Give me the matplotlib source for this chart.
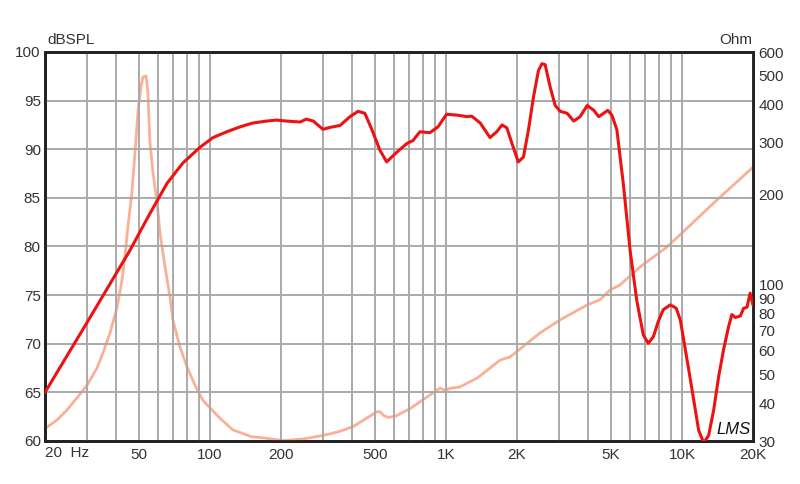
import matplotlib
matplotlib.use("Agg")
import matplotlib.pyplot as plt
from matplotlib.ticker import FixedLocator, NullLocator, FixedFormatter

plt.rcParams['font.family'] = ['Liberation Sans', 'DejaVu Sans']

spl_freq = [20, 30, 40, 45.8, 55.7, 65.8, 76.9, 90.7, 103, 118, 134, 152, 174, 192, 210, 241, 256, 274,
            301, 323, 356, 392, 424, 453, 483, 525, 561, 619, 684, 725, 776, 855, 925, 1006, 1120,
            1230, 1286, 1397, 1537, 1642, 1728, 1812, 1904, 2025, 2130, 2237, 2350, 2466, 2552, 2632,
            2764, 2903, 3050, 3260, 3480, 3700, 3970, 4230, 4440, 4660, 4850, 5050, 5300, 5640, 6030,
            6430, 6860, 7200, 7560, 7940, 8330, 8930, 9460, 9850, 10170, 10690, 11220, 11770, 12370,
            12980, 13630, 14300, 15010, 15760, 16270, 16840, 17680, 18250, 18850, 19450, 20000]
spl_db = [65.0, 72.1, 77.2, 79.6, 83.4, 86.5, 88.6, 90.2, 91.2, 91.8, 92.3, 92.7, 92.9, 93.0, 92.9, 92.8, 93.1, 92.9,
          92.05, 92.25, 92.45, 93.35, 93.9, 93.7, 92.15, 89.9, 88.7, 89.7, 90.6, 90.9, 91.8, 91.7, 92.3, 93.6, 93.5,
          93.35, 93.4, 92.7, 91.2, 91.8, 92.5, 92.2, 90.6, 88.7, 89.2, 92.0, 95.4, 98.1, 98.8, 98.7,
          96.4, 94.5, 93.9, 93.7, 92.9, 93.35, 94.5, 94.0, 93.35, 93.7, 94.0, 93.5, 92.0, 86.5, 79.6,
          74.5, 70.9, 70.05, 70.7, 72.3, 73.5, 74.0, 73.65, 72.4, 70.4, 67.3, 64.2, 61.1, 59.8,
          60.6, 63.2, 66.6, 69.4, 71.75, 73.0, 72.7, 72.85, 73.65, 73.75, 75.2, 74.0]

imp_freq = [20, 22.5, 24.8, 27.3, 30.1, 33.2, 35.2, 37.7, 40.4, 42.4, 43.6, 44.9, 46.7, 48.1, 49.6, 51.0,
            52.0, 53.6, 54.6, 55.7, 57.4, 59.7, 61.4, 64.5, 67.7, 69.7, 74.6, 80, 86.4, 93.4, 102, 110,
            125, 150, 171, 204, 250, 301, 350, 404, 462, 510, 525, 545, 568, 610, 705, 882, 944, 990,
            1040, 1146, 1355, 1700, 1870, 2500, 3040, 3960, 4490, 4960, 5460, 6640, 8650, 10100, 14070,
            20000]
imp_ohm = [33.0, 35.3, 38.1, 41.8, 46.0, 52.6, 59.0, 68.9, 84.0, 103.6, 123.8, 156, 203, 275, 384, 458,
           495, 499, 437, 298, 236, 188, 149, 115, 91, 76, 61.9, 53, 46.1, 41, 38.1, 35.8,
           32.7, 31.0, 30.7, 30.1, 30.5, 31.3, 32.2, 33.5, 35.8, 37.6, 37.6, 36.5, 36.0, 36.3, 38.5, 43.5, 45.1, 44.3,
           45.0, 45.5, 48.7, 56.0, 57.3, 68.9, 76.2, 85.5, 89.0, 96.0, 99.7, 114.6, 133.7, 150, 192,
           247]

x_ticks = [50, 100, 200, 500, 1000, 2000, 5000, 10000, 20000]
x_labels = ["50", "100", "200", "500", "1K", "2K", "5K", "10K", "20K"]
y_ticks = [60, 65, 70, 75, 80, 85, 90, 95, 100]
r_ticks = [30, 40, 50, 60, 70, 80, 90, 100, 200, 300, 400, 500, 600]

grid_x = [m * d for d in (10, 100, 1000, 10000) for m in range(1, 10) if 20 <= m * d <= 20000]

fig = plt.figure(figsize=(8, 4.84), dpi=100)
ax = fig.add_axes([45/800, 1-441/484, 708/800, 389/484])
ax.set_xscale('log')
ax.set_xlim(20, 20000)
ax.set_ylim(60, 100)

tc = '#333333'
for gx in grid_x:
    ax.axvline(gx, color='#a9a9a9', lw=1.4, zorder=1)
for gy in y_ticks[1:-1]:
    ax.axhline(gy, color='#a9a9a9', lw=1.4, zorder=1)

ax.xaxis.set_major_locator(FixedLocator(x_ticks))
ax.xaxis.set_major_formatter(FixedFormatter(x_labels))
ax.xaxis.set_minor_locator(NullLocator())
ax.set_yticks(y_ticks)
ax.tick_params(axis='both', length=0, labelsize=11, colors=tc, pad=3)
ax.tick_params(axis='x', pad=5)
ax.text(20, -5/389, "20  Hz", transform=ax.get_xaxis_transform(), ha='left', va='top',
        fontsize=11, color=tc)

ax2 = ax.twinx()
ax2.set_yscale('log')
ax2.set_ylim(30, 600)
ax2.yaxis.set_major_locator(FixedLocator(r_ticks))
ax2.yaxis.set_major_formatter(FixedFormatter([str(t) for t in r_ticks]))
ax2.yaxis.set_minor_locator(NullLocator())
ax2.tick_params(axis='y', length=0, labelsize=11, colors=tc, pad=4)

ax2.plot(imp_freq, imp_ohm, color='#f9b095', lw=2.0, zorder=3, solid_joinstyle='round')
ax.set_zorder(ax2.get_zorder() + 1)
ax.patch.set_visible(False)
ax.plot(spl_freq, spl_db, color='#ee1111', lw=2.2, zorder=4, solid_joinstyle='round')

for a in (ax, ax2):
    for s in a.spines.values():
        s.set_color('#222222')
        s.set_linewidth(2)

fig.text(47/800, 1-40/484, "dBSPL", fontsize=11, color=tc, ha='left', va='center')
fig.text(752/800, 1-40/484, "Ohm", fontsize=11, color=tc, ha='right', va='center')
ax.text(0.997, 0.01, "LMS", transform=ax.transAxes, ha='right', va='bottom',
        fontsize=12, style='italic', color='#111111', zorder=6)

fig.savefig("out.png", dpi=100)
